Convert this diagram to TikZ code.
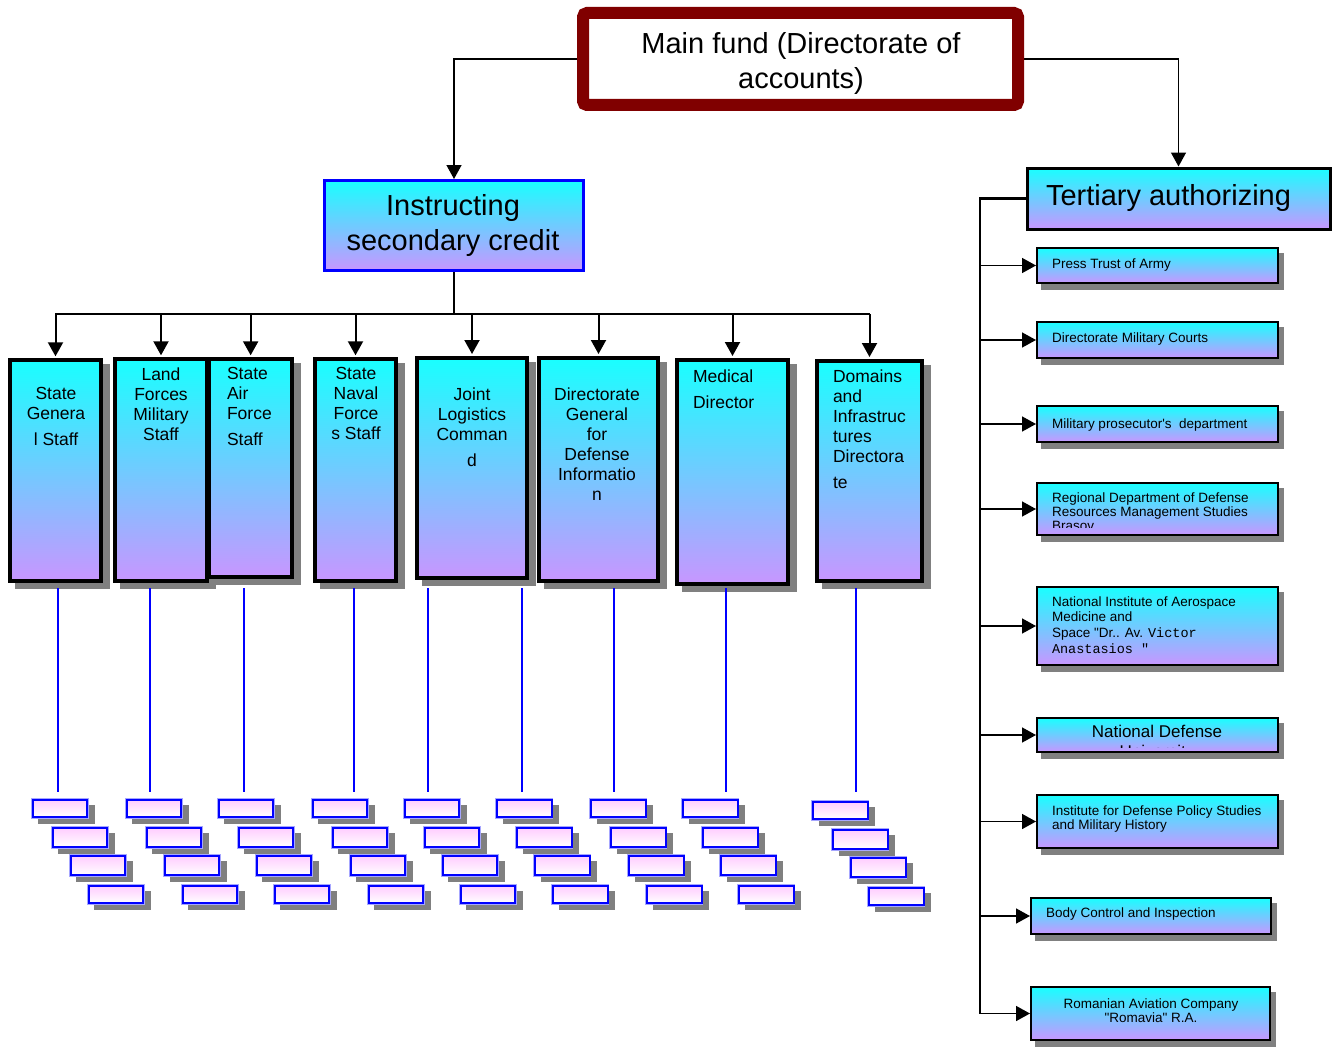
\documentclass[tikz,border=0pt]{standalone}
\usepackage{fontspec}
\setmainfont{Liberation Sans}[Ligatures=TeXOff]
\newfontfamily\codefont{Liberation Mono}[Ligatures=TeXOff]
\usetikzlibrary{arrows.meta,shadows,backgrounds}
\definecolor{fundred}{RGB}{128,0,0}
\definecolor{topcyan}{RGB}{25,255,255}
\definecolor{botlilac}{RGB}{200,150,255}
\definecolor{toppink}{RGB}{255,205,255}
\definecolor{shadowgray}{RGB}{128,128,128}
\definecolor{linkblue}{RGB}{0,0,255}

% rectangle node from its corner coordinates (border centre line): style, name, x1, y1, x2, y2
\newcommand\rectnode[6]{%
  \pgfmathsetmacro\rnW{#5-#3}\pgfmathsetmacro\rnH{#6-#4}%
  \pgfmathsetmacro\rnX{(#3+#5)/2}\pgfmathsetmacro\rnY{(#4+#6)/2}%
  \node[#1, minimum width=\rnW pt, minimum height=\rnH pt, anchor=center] (#2) at (\rnX,\rnY) {};}

% straight typewriter-style quote marks
\newcommand\sq{\char39\relax}
\newcommand\dq{\char34\relax}

\begin{document}
\begin{tikzpicture}[x=1pt,y=-1pt,
  every node/.style={inner sep=0pt, outer sep=0pt},
  grad/.style={top color=topcyan, bottom color=botlilac},
  hshadow/.style 2 args={general shadow={fill=shadowgray, draw=shadowgray,
      shadow xshift=#1, shadow yshift=-#2}},
  mainbox/.style={draw=fundred, line width=12pt, fill=white, rounded corners=4pt, outer sep=6pt},
  instrbox/.style={draw=linkblue, line width=3pt, grad, outer sep=1.5pt},
  tertbox/.style={draw=black, line width=3pt, grad, outer sep=1.5pt},
  colbox/.style={draw=black, line width=4pt, grad, hshadow={7pt}{6pt}, outer sep=2pt},
  rbox/.style={draw=black, line width=2pt, grad, hshadow={5pt}{6pt}, outer sep=1pt},
  smallbox/.style={draw=linkblue, line width=2pt, top color=toppink, bottom color=white,
      hshadow={6.5pt}{6pt}, preaction={draw=linkblue!35, line width=3.5pt}},
  bigtext/.style={font=\fontsize{29pt}{35pt}\selectfont, align=center},
  coltext/.style={font=\fontsize{17.5pt}{20pt}\selectfont},
  rtext/.style={font=\fontsize{13.5pt}{14pt}\selectfont, align=left, anchor=north west},
  link/.style={draw=black, line width=1.5pt},
  arrowlink/.style={link, -{Triangle[length=14pt,width=15pt]}},
  bline/.style={draw=linkblue, line width=2pt}
]
\useasboundingbox (0,0) rectangle (1340,1046);

% ---------- top level ----------
\rectnode{mainbox}{main}{583}{13}{1018}{105}
\node[bigtext, anchor=north] at (801,32) {Main fund (Directorate of\\accounts)};

\rectnode{instrbox}{instr}{324.5}{180.5}{583.5}{270.5}
\node[bigtext, anchor=north] at (453,194) {Instructing\\secondary credit};

\rectnode{tertbox}{tert}{1027}{168}{1330}{229}
\node[font=\fontsize{29pt}{35pt}\selectfont, anchor=north west] at (1046,184) {Tertiary authorizing};

% ---------- secondary credit columns ----------
\rectnode{colbox}{c1}{10.3}{360.3}{100.7}{580.7}
\rectnode{colbox}{c2}{114.7}{359.3}{207.3}{581.3}
\rectnode{colbox}{c3}{209.3}{359.3}{292}{577.3}
\rectnode{colbox}{c4}{314.7}{359.3}{396.3}{580.7}
\rectnode{colbox}{c5}{417}{358}{527}{578}
\rectnode{colbox}{c6}{539}{358}{658}{581}
\rectnode{colbox}{c7}{677}{360}{788}{584}
\rectnode{colbox}{c8}{817}{361}{922}{581}

\node[coltext, align=center, anchor=north] at (56,387.4) {State\\Genera\\[6pt]l Staff};
\node[coltext, align=center, anchor=north] at (161,367.4) {Land\\Forces\\Military\\Staff};
\node[coltext, align=left, anchor=north west] at (227,367.4) {State\\Air\\Force\\[6pt]Staff};
\node[coltext, align=center, anchor=north] at (356,367.4) {State\\Naval\\Force\\s Staff};
\node[coltext, align=center, anchor=north] at (472,387.4) {Joint\\Logistics\\Comman\\[6pt]d};
\node[coltext, align=center, anchor=north] at (597,387.4) {Directorate\\General\\for\\Defense\\Informatio\\n};
\node[coltext, align=left, anchor=north west] at (693,369.4) {Medical\\[6pt]Director};
\node[coltext, align=left, anchor=north west] at (833,369.4) {Domains\\and\\Infrastruc\\tures\\Directora\\[6pt]te};

% ---------- tertiary authorizing list ----------
\rectnode{rbox}{r1}{1037}{248}{1278}{283}
\rectnode{rbox}{r2}{1037}{322}{1278}{358}
\rectnode{rbox}{r3}{1037}{406}{1278}{442}
\rectnode{rbox}{r4}{1037}{483}{1278}{535}
\rectnode{rbox}{r5}{1037}{587}{1278}{665}
\rectnode{rbox}{r6}{1037}{718}{1278}{752}
\rectnode{rbox}{r7}{1037}{795}{1278}{848}
\rectnode{rbox}{r8}{1031}{898}{1271}{934}
\rectnode{rbox}{r9}{1031}{987}{1270}{1040}

\node[rtext] at (1052,259) {Press Trust of Army};
\node[rtext] at (1052,333) {Directorate Military Courts};
\node[rtext] at (1052,419) {Military prosecutor\sq s~ department};
\begin{scope}
  \clip (1038,484) rectangle (1277,527);
  \node[rtext] at (1052,492.5) {Regional Department of Defense\\Resources Management Studies\\Brasov};
\end{scope}
\node[rtext, font=\fontsize{13.5pt}{15.7pt}\selectfont] at (1052,596.5)
  {National Institute of Aerospace\\Medicine and\\Space \dq Dr.. Av. {\codefont Victor}\\{\codefont Anastasios \dq}};
\begin{scope}
  \clip (1038,719) rectangle (1277,747.5);
  \node[font=\fontsize{17pt}{20pt}\selectfont, align=center, anchor=north] at (1157,725.3) {National Defense\\University};
\end{scope}
\node[rtext] at (1052,806) {Institute for Defense Policy Studies\\and Military History};
\node[rtext] at (1046,908) {Body Control and Inspection};
\node[font=\fontsize{13.5pt}{14pt}\selectfont, align=center, anchor=north] at (1151,998.5) {Romanian Aviation Company\\\dq Romavia\dq{} R.A.};

% ---------- connectors ----------
\coordinate (busL) at (55,314);
\coordinate (busR) at (870,314);
\coordinate (spine) at (980,198.5);

\begin{scope}[on background layer]
  \draw[arrowlink] (main.west) -| (instr.north);
  \draw[arrowlink] (main.east) -| (tert.north);

  \draw[link, line width=2.5pt] (instr.south) -- (instr.south |- busL);
  \draw[link, line width=2.5pt] (busL) -- (instr.south |- busL);
  \draw[link, line width=1.8pt] (instr.south |- busL) -- (busR);
  \foreach \c in {c1,c2,c3,c4,c5,c6,c7,c8}
    \draw[arrowlink, line width=2pt, shorten >=2pt] (\c.north |- busL) -- (\c.north);

  \draw[link, line width=2.5pt] (tert.west) -- (spine) -- (spine |- r9.west);
  \foreach \r in {r1,r2,r3,r4,r5,r6,r7,r8,r9}
    \draw[arrowlink] (spine |- \r.west) -- (\r.west);
\end{scope}

% blue drop lines under the columns
\foreach \x [count=\i] in {58,150,244,354,428,522,614,726,856} {
  \coordinate (dropT\i) at (\x,588);
  \coordinate (dropB\i) at (\x,792);
  \draw[bline] (dropT\i) -- (dropB\i);
}

% staggered sub-unit boxes
\foreach \gx/\gy [count=\g] in {31.7/799, 125.7/799, 217.7/799, 311.7/799, 403.7/799,
                                496/799, 590/799, 682/799, 812/801} {
  \foreach \dx/\dy/\h [count=\r] in {0/0/17.3, 20/28/19.3, 38/56/19.3, 56/86/17.3} {
    \node[smallbox, minimum width=54.6pt, minimum height=\h pt, anchor=north west]
      (s\g-\r) at (\gx+\dx+1, \gy+\dy+1) {};
  }
}
\end{tikzpicture}
\end{document}
